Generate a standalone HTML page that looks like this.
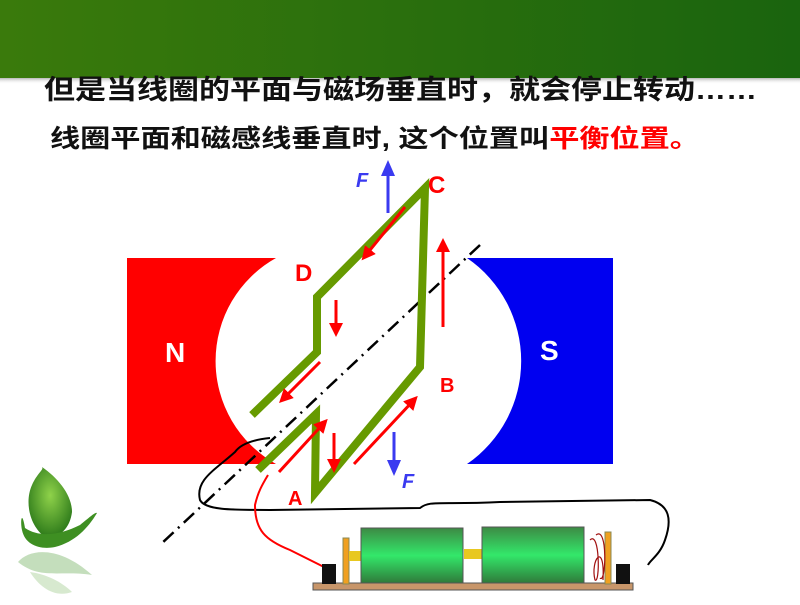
<!DOCTYPE html>
<html><head><meta charset="utf-8"><style>
body{margin:0;width:800px;height:600px;overflow:hidden;background:#fff;font-family:"Liberation Sans","Noto Sans CJK SC",sans-serif}
</style></head><body>
<svg width="800" height="600" viewBox="0 0 800 600" xmlns="http://www.w3.org/2000/svg">
<defs>
<linearGradient id="hd" x1="0" x2="1"><stop offset="0" stop-color="#3a7a0c"/><stop offset="1" stop-color="#1a640e"/></linearGradient>
<linearGradient id="hs" x1="0" y1="0" x2="0" y2="1"><stop offset="0" stop-color="#888" stop-opacity="0.6"/><stop offset="1" stop-color="#fff" stop-opacity="0"/></linearGradient>
<linearGradient id="bat" x1="0" y1="0" x2="0" y2="1"><stop offset="0" stop-color="#3d8a44"/><stop offset="0.5" stop-color="#33e86a"/><stop offset="1" stop-color="#2f7a3a"/></linearGradient>
<radialGradient id="leaf" cx="0.5" cy="0.4" r="0.6"><stop offset="0" stop-color="#8fd24a"/><stop offset="1" stop-color="#2d7a1a"/></radialGradient>
<marker id="ar" markerWidth="14" markerHeight="14" refX="7" refY="7" orient="auto" markerUnits="userSpaceOnUse" viewBox="0 0 14 14"><path d="M0,0 L14,7 L0,14 z" fill="red"/></marker>
<marker id="ab" markerWidth="16" markerHeight="16" refX="8" refY="8" orient="auto" markerUnits="userSpaceOnUse" viewBox="0 0 16 16"><path d="M0,1 L16,8 L0,15 z" fill="#3a3af0"/></marker>
<clipPath id="cn"><rect x="127" y="258" width="149" height="206"/></clipPath>
</defs>
<rect x="0" y="0" width="800" height="78" fill="url(#hd)"/>
<rect x="0" y="78" width="800" height="6" fill="url(#hs)"/>
<text x="44" y="99" font-size="27" font-weight="bold" fill="#111" textLength="713" lengthAdjust="spacingAndGlyphs">但是当线圈的平面与磁场垂直时，就会停止转动……</text>
<text x="50" y="147" font-size="25" font-weight="bold" fill="#111" textLength="650" lengthAdjust="spacingAndGlyphs">线圈平面和磁感线垂直时, 这个位置叫<tspan fill="red">平衡位置。</tspan></text>

<path d="M127,258 H276 A118,118 0 0 0 276,464 H127 Z" fill="red"/>
<circle cx="335" cy="361" r="118" fill="#fff" clip-path="url(#cn)"/>
<path d="M613,258 H467 A125,125 0 0 1 467,464 H613 Z" fill="#0000f0"/>
<text x="165" y="362" font-size="28" font-weight="bold" fill="#fff">N</text>
<text x="540" y="360" font-size="28" font-weight="bold" fill="#fff">S</text>

<path d="M270,438 C250,440 240,445 235,452 C215,470 195,480 200,500 C205,510 230,510 270,510 L420,508 C430,500 440,505 500,502 L650,500 C670,505 672,520 665,540 C660,555 650,560 648,565" fill="none" stroke="#000" stroke-width="2"/>
<path d="M268,475 C262,485 258,492 255,505 C255,530 265,540 290,550 C310,560 320,565 330,570" fill="none" stroke="red" stroke-width="2"/>

<line x1="480" y1="245" x2="160" y2="545" stroke="#000" stroke-width="2.5" stroke-dasharray="14,6,2,6"/>

<polyline points="258,470 316,414 315,493 420,367 425,188 317,297 317,352 252,415" fill="none" stroke="#669a00" stroke-width="8" stroke-linejoin="miter"/>

<g stroke="red" stroke-width="3" fill="none">
<line x1="405" y1="207" x2="366" y2="255" marker-end="url(#ar)"/>
<line x1="336" y1="300" x2="336" y2="330" marker-end="url(#ar)"/>
<line x1="443" y1="327" x2="443" y2="245" marker-end="url(#ar)"/>
<line x1="320" y1="362" x2="284" y2="398" marker-end="url(#ar)"/>
<line x1="279" y1="472" x2="323" y2="424" marker-end="url(#ar)"/>
<line x1="334" y1="433" x2="334" y2="466" marker-end="url(#ar)"/>
<line x1="354" y1="464" x2="413" y2="401" marker-end="url(#ar)"/>
</g>
<g stroke="#3a3af0" stroke-width="3" fill="none">
<line x1="388" y1="213" x2="388" y2="168" marker-end="url(#ab)"/>
<line x1="394" y1="432" x2="394" y2="468" marker-end="url(#ab)"/>
</g>
<g font-weight="bold" font-size="24" fill="red">
<text x="428" y="193">C</text><text x="295" y="281">D</text>
<text x="440" y="392" font-size="20">B</text><text x="288" y="505" font-size="20">A</text>
</g>
<g font-weight="bold" font-style="italic" font-size="20" fill="#3a3af0">
<text x="356" y="187">F</text><text x="402" y="488">F</text>
</g>

<rect x="313" y="583" width="320" height="7" fill="#c8966a" stroke="#555"/>
<rect x="322" y="564" width="14" height="20" fill="#111"/>
<rect x="616" y="564" width="14" height="20" fill="#111"/>
<rect x="343" y="538" width="6" height="46" fill="#f0a020" stroke="#885"/>
<rect x="605" y="532" width="6" height="52" fill="#f0a020" stroke="#885"/>
<rect x="349" y="551" width="12" height="10" fill="#e8c820"/>
<rect x="464" y="549" width="20" height="10" fill="#e8c820"/>
<rect x="361" y="528" width="102" height="55" fill="url(#bat)" stroke="#555"/>
<rect x="482" y="527" width="102" height="56" fill="url(#bat)" stroke="#555"/>
<path d="M590,540 C600,530 600,585 595,580 C590,560 605,540 603,580 M596,535 C608,525 606,585 600,578" fill="none" stroke="#a01010" stroke-width="1.2"/>

<path d="M46,538 C28,525 25,500 32,485 C38,472 44,470 42,467 C58,478 72,495 72,512 C70,528 60,538 46,538 Z" fill="url(#leaf)"/>
<path d="M22,530 C20,520 22,510 25,528 C40,538 60,535 80,525 C90,517 95,512 97,513 C88,528 75,542 55,547 C40,550 25,545 22,530 Z" fill="#3e8f22"/>
<path d="M18,562 C30,548 60,546 92,575 C60,570 40,580 18,562 Z" fill="#9cc890" opacity="0.6"/>
<path d="M30,572 C40,588 55,598 72,592 C62,582 46,574 30,572 Z" fill="#b0d4a0" opacity="0.5"/>
</svg>
</body></html>
